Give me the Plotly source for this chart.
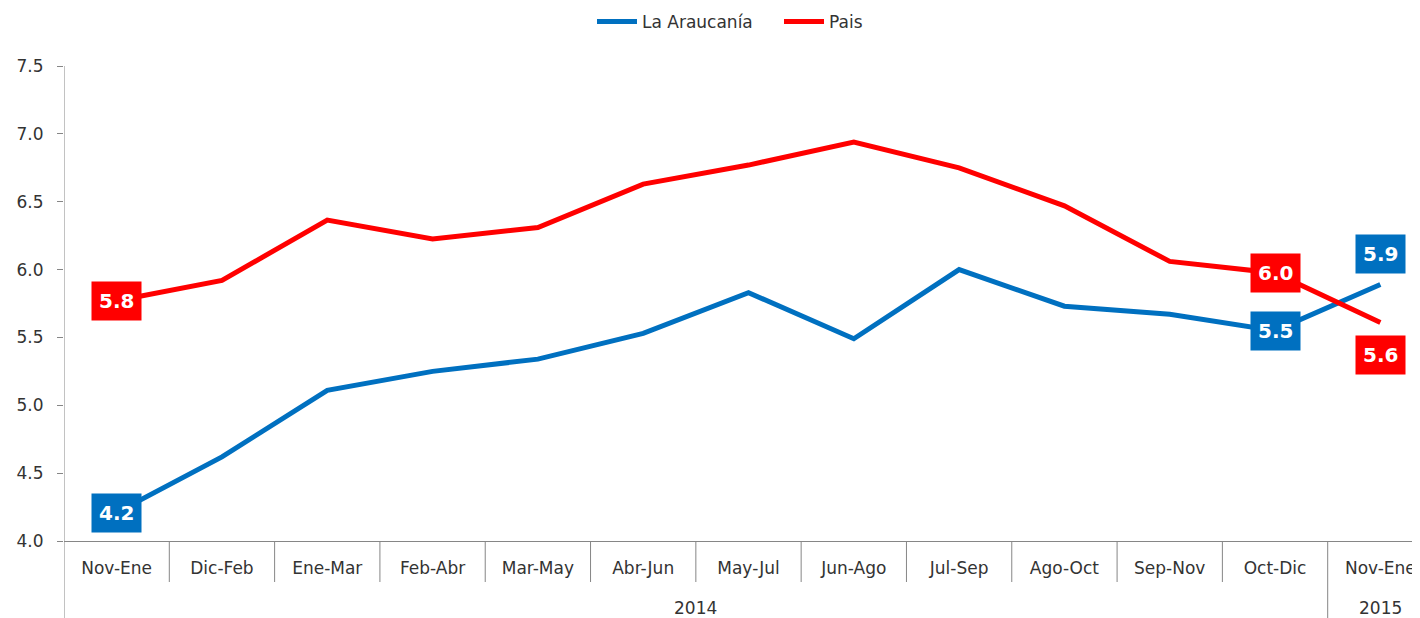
import plotly.graph_objects as go

categories = ["Nov-Ene", "Dic-Feb", "Ene-Mar", "Feb-Abr", "Mar-May", "Abr-Jun",
              "May-Jul", "Jun-Ago", "Jul-Sep", "Ago-Oct", "Sep-Nov", "Oct-Dic", "Nov-Ene"]
years = ["2014", "2015"]
year_span = [12, 1]  # number of periods in each year group
araucania = [4.21, 4.62, 5.11, 5.25, 5.34, 5.53, 5.83, 5.49, 6.00, 5.73, 5.67, 5.55, 5.89]
pais = [5.77, 5.92, 6.365, 6.225, 6.31, 6.63, 6.77, 6.94, 6.75, 6.47, 6.06, 5.975, 5.61]
y_ticks = [4.0, 4.5, 5.0, 5.5, 6.0, 6.5, 7.0, 7.5]

BLUE = "#0070C0"
RED = "#FF0000"
AXIS = "#868686"
TXT = "#333333"
FONT = "DejaVu Sans"

PLOT_H = 475
x = list(range(len(categories)))

fig = go.Figure()
fig.add_trace(go.Scatter(x=x, y=araucania, mode="lines", name="La Araucanía",
                         line=dict(color=BLUE, width=5)))
fig.add_trace(go.Scatter(x=x, y=pais, mode="lines", name="Pais",
                         line=dict(color=RED, width=5)))

# data labels (index -> vertical shift in px)
label_specs = [
    (araucania, BLUE, {0: 0, 11: 0, 12: 31}, {11: "5.5"}),
    (pais, RED, {0: 0, 11: 0, 12: -32}, {}),
]
for series, color, idxs, override in label_specs:
    for i, ys in idxs.items():
        txt = override.get(i, f"{series[i]:.1f}")
        fig.add_annotation(x=x[i], y=series[i], xref="x", yref="y",
                           text=f"<b>{txt}</b>",
                           showarrow=False, yshift=ys,
                           font=dict(family=FONT, size=20, color="white"),
                           bgcolor=color, borderpad=7)

# category dividers
n = len(categories)
boundaries = []
acc = 0
for s in year_span[:-1]:
    acc += s
    boundaries.append(acc - 0.5)
for k in range(n - 1):
    bx = k + 0.5
    long = bx in boundaries
    fig.add_shape(type="line", xref="x", yref="paper", x0=bx, x1=bx,
                  y0=0, y1=(-80 / PLOT_H) if long else (-41 / PLOT_H),
                  line=dict(color=AXIS, width=1))
# y axis line extended to the bottom
fig.add_shape(type="line", xref="x", yref="paper", x0=-0.5, x1=-0.5,
              y0=-80 / PLOT_H, y1=1, line=dict(color=AXIS, width=1))

# year labels
start = 0
for yr, s in zip(years, year_span):
    fig.add_annotation(x=start + (s - 1) / 2, y=-67 / PLOT_H, xref="x", yref="paper",
                       yanchor="middle", text=yr, showarrow=False,
                       font=dict(family=FONT, size=17, color=TXT))
    start += s

fig.update_layout(
    width=1412, height=610,
    margin=dict(l=56, r=0, t=58, b=77, autoexpand=False),
    paper_bgcolor="white", plot_bgcolor="white",
    showlegend=True,
    legend=dict(orientation="h", x=(592 - 64) / 1356, xanchor="left",
                y=1 + 44 / PLOT_H, yanchor="middle",
                font=dict(family=FONT, size=17, color=TXT),
                itemwidth=40, entrywidth=132),
    font=dict(family=FONT, size=17, color=TXT),
)
fig.update_xaxes(range=[-0.5, n - 0.5 - 13 / 105.3], tickmode="array", tickvals=x,
                 ticktext=categories, showgrid=False, zeroline=False,
                 showline=True, linecolor=AXIS, linewidth=1, ticks="",
                 ticklabelstandoff=12,
                 tickfont=dict(family=FONT, size=17, color=TXT))
fig.update_yaxes(range=[4.0, 7.5], tickmode="array", tickvals=y_ticks,
                 ticktext=[f"{v:.1f}" for v in y_ticks],
                 showgrid=False, zeroline=False, showline=False,
                 ticks="outside", ticklen=6, tickcolor=AXIS,
                 ticklabelstandoff=10,
                 tickfont=dict(family=FONT, size=17, color=TXT))

fig.write_html("out.html")
